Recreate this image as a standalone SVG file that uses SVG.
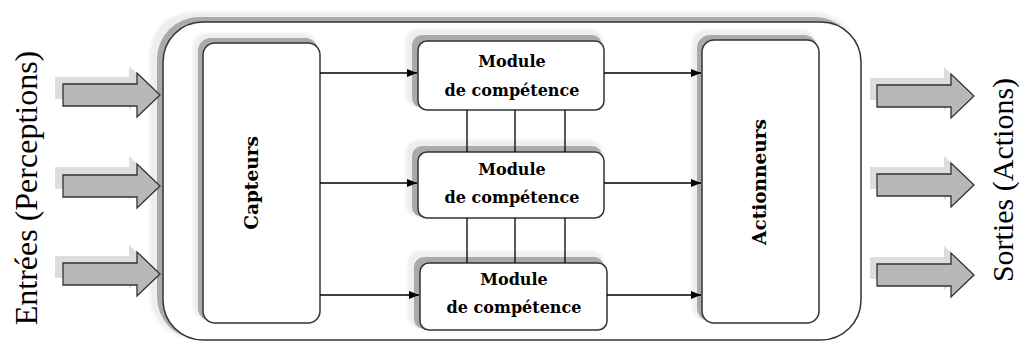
<svg xmlns="http://www.w3.org/2000/svg" width="1019" height="343" viewBox="0 0 1019 343">
  <defs>
    <marker id="ah" markerWidth="10" markerHeight="8" refX="10" refY="4" orient="auto" markerUnits="userSpaceOnUse">
      <path d="M0,0 L10,4 L0,8 Z" fill="#000"/>
    </marker>
    <filter id="soft" x="-10%" y="-10%" width="120%" height="120%">
      <feGaussianBlur stdDeviation="1.5"/>
    </filter>
    <path id="blk" d="M0,-11 L74,-11 L74,-22 L97,0 L74,22 L74,11 L0,11 Z"/>
  </defs>
  <style>
    .box { fill: #fff; stroke: #333; stroke-width: 1.5; }
    .shadow { fill: #aaa; }
    .halo { fill: #eee; filter: url(#soft); }
    .link { stroke: #000; stroke-width: 1.3; fill: none; }
    .blk { fill: #b8b8b8; stroke: #333; stroke-width: 1.3; }
    .blkshadow { fill: #ddd; }
    .lbl { font-family: "DejaVu Serif", "Liberation Serif", serif; font-weight: bold; font-size: 16px; fill: #000; text-anchor: middle; }
    .vlbl { font-size: 18.5px; }
    .side { font-family: "Liberation Serif", serif; fill: #000; text-anchor: middle; }
  </style>
  <rect width="1019" height="343" fill="#fff"/>

  <!-- agent frame -->
  <g id="agent">
    <rect class="halo" x="150" y="12" width="706" height="326" rx="42"/>
    <rect class="shadow" x="157" y="17" width="700" height="322" rx="42"/>
    <rect class="box" x="163" y="22" width="698" height="318" rx="40"/>
  </g>

  <!-- input arrows -->
  <g id="inputs">
    <use href="#blk" class="blkshadow" x="55" y="88"/>
    <use href="#blk" class="blk" x="63" y="95"/>
    <use href="#blk" class="blkshadow" x="55" y="178"/>
    <use href="#blk" class="blk" x="63" y="186"/>
    <use href="#blk" class="blkshadow" x="55" y="267"/>
    <use href="#blk" class="blk" x="63" y="274"/>
  </g>

  <!-- output arrows -->
  <g id="outputs">
    <use href="#blk" class="blkshadow" x="870" y="89"/>
    <use href="#blk" class="blk" x="877" y="96"/>
    <use href="#blk" class="blkshadow" x="870" y="178"/>
    <use href="#blk" class="blk" x="877" y="185"/>
    <use href="#blk" class="blkshadow" x="870" y="268"/>
    <use href="#blk" class="blk" x="877" y="275"/>
  </g>

  <g id="capteurs">
    <rect class="halo" x="193" y="33" width="124" height="287" rx="14"/>
    <rect class="shadow" x="198" y="38" width="120" height="283" rx="13"/>
    <rect class="box" x="203" y="43" width="117" height="280" rx="12"/>
    <text class="lbl vlbl" transform="translate(258,183) rotate(-90)">Capteurs</text>
  </g>

  <g id="actionneurs">
    <rect class="halo" x="692" y="30" width="124" height="290" rx="14"/>
    <rect class="shadow" x="697" y="35" width="120" height="286" rx="13"/>
    <rect class="box" x="702" y="40" width="117" height="283" rx="12"/>
    <text class="lbl vlbl" transform="translate(766,182) rotate(-90)">Actionneurs</text>
  </g>

  <g id="module1">
    <rect class="halo" x="406" y="29" width="196" height="78" rx="12"/>
    <rect class="shadow" x="412" y="35" width="190" height="73" rx="10"/>
    <rect class="box" x="418" y="41" width="186" height="69" rx="9"/>
    <text class="lbl" x="512" y="67">Module</text>
    <text class="lbl" x="512" y="96">de compétence</text>
  </g>

  <g id="module2">
    <rect class="halo" x="406" y="140" width="196" height="76" rx="12"/>
    <rect class="shadow" x="412" y="146" width="190" height="71" rx="10"/>
    <rect class="box" x="418" y="152" width="186" height="66" rx="9"/>
    <text class="lbl" x="512" y="175">Module</text>
    <text class="lbl" x="512" y="203">de compétence</text>
  </g>

  <g id="module3">
    <rect class="halo" x="408" y="251" width="196" height="77" rx="12"/>
    <rect class="shadow" x="414" y="257" width="190" height="72" rx="10"/>
    <rect class="box" x="420" y="263" width="187" height="67" rx="9"/>
    <text class="lbl" x="514" y="285">Module</text>
    <text class="lbl" x="514" y="313">de compétence</text>
  </g>

  <g id="connectors">
    <line class="link" x1="320" y1="73" x2="417" y2="73" marker-end="url(#ah)"/>
    <line class="link" x1="320" y1="183" x2="417" y2="183" marker-end="url(#ah)"/>
    <line class="link" x1="320" y1="295" x2="419" y2="295" marker-end="url(#ah)"/>
    <line class="link" x1="604" y1="73" x2="701" y2="73" marker-end="url(#ah)"/>
    <line class="link" x1="604" y1="183" x2="701" y2="183" marker-end="url(#ah)"/>
    <line class="link" x1="607" y1="295" x2="701" y2="295" marker-end="url(#ah)"/>
    <line class="link" x1="467" y1="110" x2="467" y2="152"/>
    <line class="link" x1="515" y1="110" x2="515" y2="152"/>
    <line class="link" x1="565" y1="110" x2="565" y2="152"/>
    <line class="link" x1="467" y1="218" x2="467" y2="263"/>
    <line class="link" x1="515" y1="218" x2="515" y2="263"/>
    <line class="link" x1="565" y1="218" x2="565" y2="263"/>
  </g>

  <text class="side" font-size="32" transform="translate(37,188) rotate(-90)">Entrées (Perceptions)</text>
  <text class="side" font-size="30" transform="translate(1013,180) rotate(-90)">Sorties (Actions)</text>
</svg>
